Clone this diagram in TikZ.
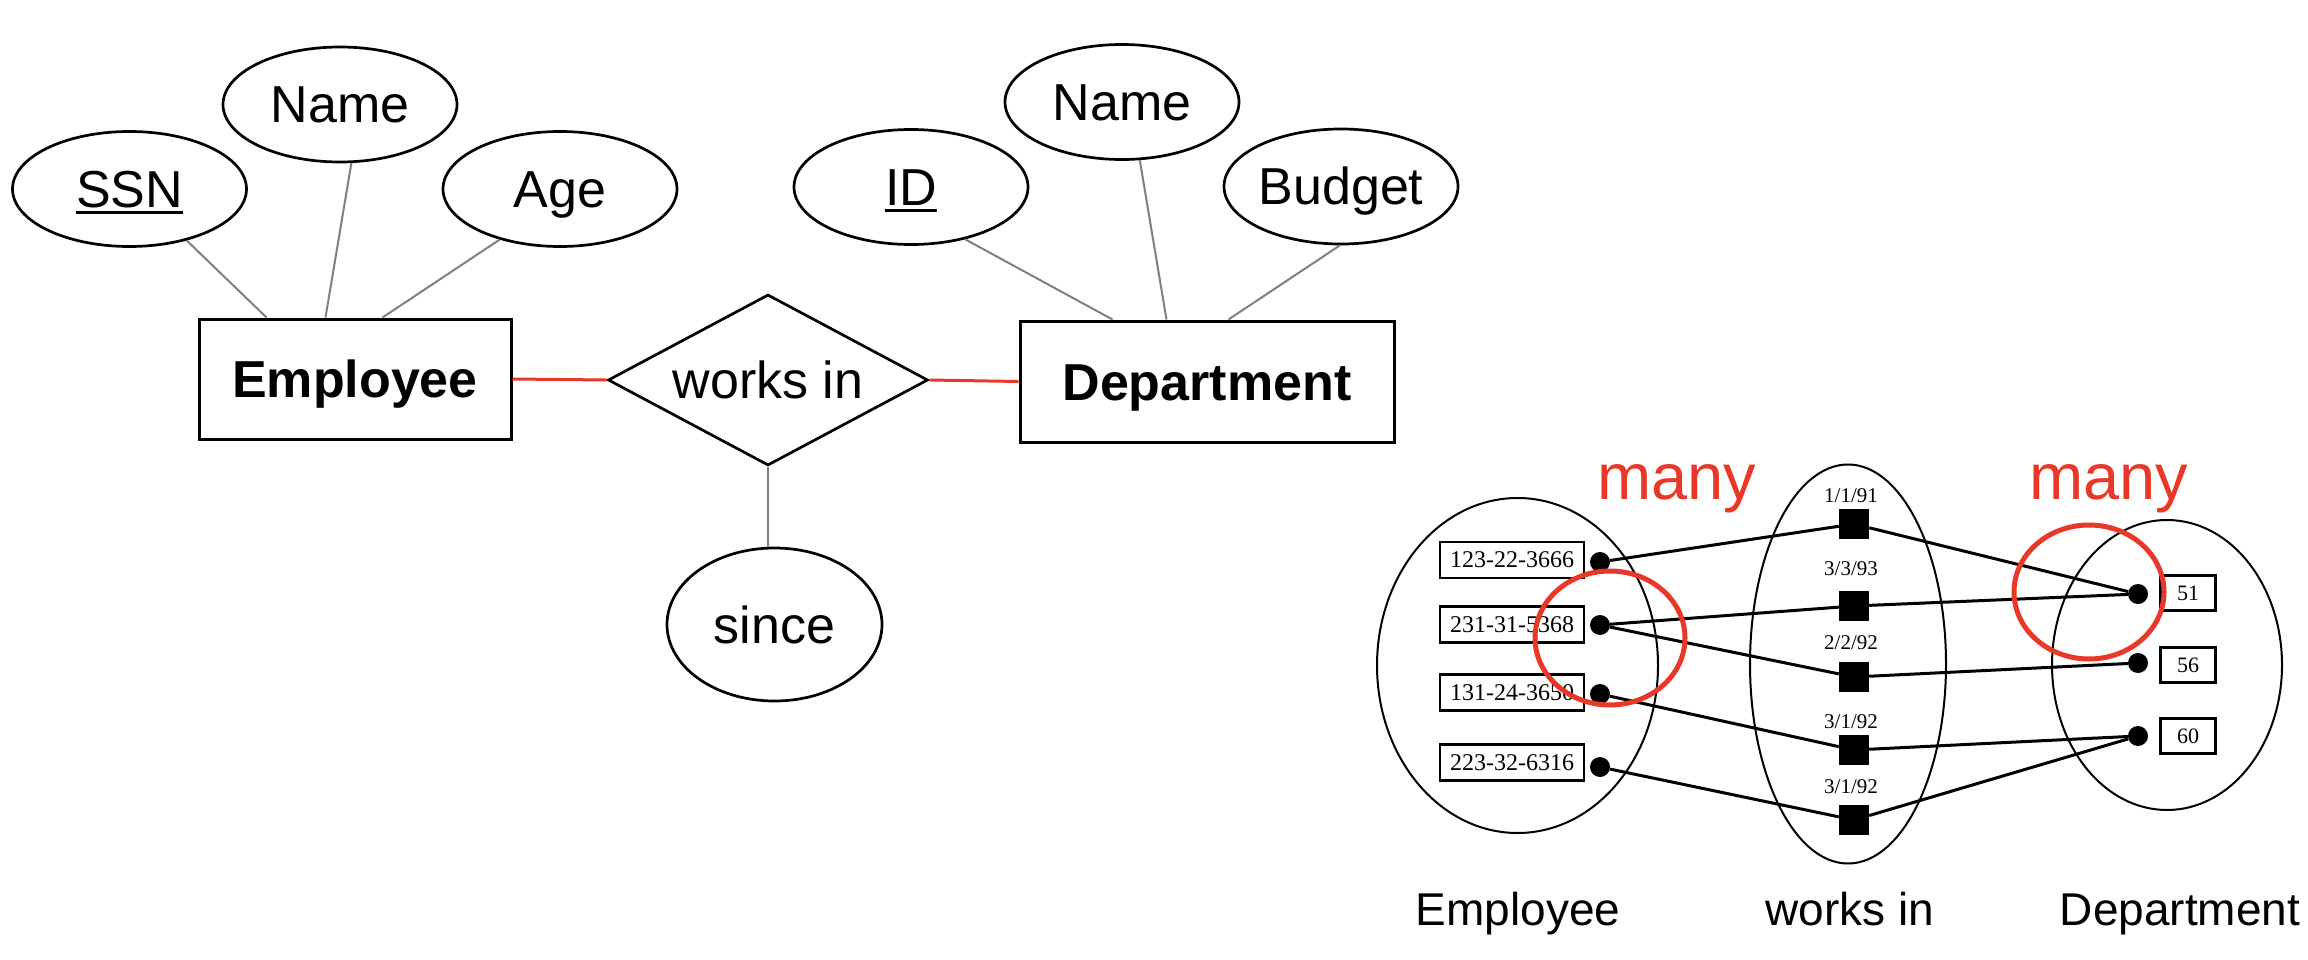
\documentclass[tikz,border=0pt]{standalone}
\usepackage{fontspec}
\setmainfont{Liberation Sans}
\newfontfamily\serifsmall{Liberation Serif}
\usetikzlibrary{shapes.geometric}
\definecolor{erred}{HTML}{E8382A}
\definecolor{linegray}{HTML}{808080}
\newcommand\myul[1]{\setbox0\hbox{#1}\rlap{\rule[-6.5pt]{\wd0}{3.2pt}}\box0}
\begin{document}
\begin{tikzpicture}[x=1pt,y=-1pt,
  attr/.style={ellipse, draw, line width=2.7pt, inner sep=0pt,
    minimum width=234pt, minimum height=115pt,
    font=\fontsize{52}{60}\selectfont, text height=37pt, text depth=0pt},
  ent/.style={rectangle, draw, line width=3pt, inner sep=0pt,
    font=\bfseries\fontsize{52}{60}\selectfont, text height=37pt, text depth=0pt},
  rel/.style={diamond, draw, line width=2.7pt, aspect=1.87, inner sep=0pt,
    minimum width=320pt, minimum height=171pt,
    font=\fontsize{52}{60}\selectfont, text height=37pt, text depth=0pt},
  attrline/.style={draw=linegray, line width=2pt},
  redline/.style={draw=erred, line width=3pt},
  setell/.style={ellipse, draw, line width=2pt, inner sep=0pt},
  idbox/.style={rectangle, draw, line width=2.2pt, inner sep=0pt,
    minimum width=144pt, minimum height=36pt,
    font=\serifsmall\fontsize{24}{28}\selectfont},
  dbox/.style={rectangle, draw, line width=2.2pt, inner sep=0pt,
    minimum width=55pt, minimum height=35pt,
    font=\serifsmall\fontsize{22}{26}\selectfont},
  dotnode/.style={circle, fill=black, inner sep=0pt, minimum size=20pt},
  sqnode/.style={rectangle, fill=black, inner sep=0pt, minimum size=30pt},
  datelbl/.style={inner sep=0pt, font=\serifsmall\fontsize{21}{24}\selectfont},
  capt/.style={anchor=base, inner sep=0pt, font=\fontsize{46}{54}\selectfont},
  manylbl/.style={anchor=base, inner sep=0pt, text=erred, font=\fontsize{65}{75}\selectfont},
  ring/.style={ellipse, draw=erred, line width=5pt, inner sep=0pt,
    minimum width=150pt, minimum height=134pt},
  conn/.style={draw=black, line width=3pt}
]
\fill[white] (0,0) rectangle (2308,960);
\useasboundingbox (0,0) rectangle (2308,960);

% ---------- ER diagram ----------
\node[attr] (ssn) at (129.5,189) {\myul{SSN}};
\node[attr] (ename) at (340,104.5) {Name};
\node[attr] (age) at (560,189) {Age};
\node[attr] (id) at (911,187) {\myul{ID}};
\node[attr] (dname) at (1122,102) {Name};
\node[attr] (budget) at (1341,186.5) {Budget};
\node[ent, minimum width=312pt, minimum height=120pt] (emp) at (355,379) {Employee};
\node[ent, minimum width=374pt, minimum height=121pt] (dept) at (1207,381.5) {Department};
\node[rel] (works) at (768,380) {works in};
\node[attr, minimum width=215pt, minimum height=153pt] (since) at (774.5,624.5) {since};

\draw[attrline] (ssn.-42) -- ([xshift=69pt]emp.north west);
\draw[attrline] (ename.-79) -- ([xshift=128pt]emp.north west);
\draw[attrline] (age.-140) -- ([xshift=185pt]emp.north west);
\draw[attrline] (id.-44) -- ([xshift=94pt]dept.north west);
\draw[attrline] (dname.-73) -- ([xshift=148pt]dept.north west);
\draw[attrline] (budget.-91) -- ([xshift=210pt]dept.north west);
\draw[attrline] (works.south) -- (works.south |- since.north);
\draw[redline] (emp.east) -- (works.west);
\draw[redline] (works.east) -- (dept.west);

% ---------- instance diagram ----------
\node[setell, minimum width=281pt, minimum height=335pt] (eset) at (1517.5,665.5) {};
\node[setell, minimum width=196pt, minimum height=399pt] (wset) at (1848,664) {};
\node[setell, minimum width=230pt, minimum height=290pt] (dset) at (2167,665) {};

\node[idbox] (b1) at (1512,560) {123-22-3666};
\node[idbox] (b2) at (1512,624.5) {231-31-5368};
\node[idbox] (b3) at (1512,692.5) {131-24-3650};
\node[idbox] (b4) at (1512,762.5) {223-32-6316};
\node[dotnode] (e1) at (1600,562) {};
\node[dotnode] (e2) at (1600,625) {};
\node[dotnode] (e3) at (1600,694) {};
\node[dotnode] (e4) at (1600,767) {};

\node[sqnode] (w1) at (1854,524) {};
\node[sqnode] (w2) at (1854,606) {};
\node[sqnode] (w3) at (1854,677) {};
\node[sqnode] (w4) at (1854,750) {};
\node[sqnode] (w5) at (1854,820) {};
\node[datelbl] (l1) at (1851,496) {1/1/91};
\node[datelbl] (l2) at (1851,569) {3/3/93};
\node[datelbl] (l3) at (1851,643) {2/2/92};
\node[datelbl] (l4) at (1851,722) {3/1/92};
\node[datelbl] (l5) at (1851,787) {3/1/92};

\node[dbox] (d1b) at (2188,593) {51};
\node[dbox] (d2b) at (2188,665) {56};
\node[dbox] (d3b) at (2188,736) {60};
\node[dotnode] (d1) at (2138,594) {};
\node[dotnode] (d2) at (2138,663) {};
\node[dotnode] (d3) at (2138,736) {};

\draw[conn] (e1) -- (w1) -- (d1);
\draw[conn] (e2) -- (w2) -- (d1);
\draw[conn] (e2) -- (w3) -- (d2);
\draw[conn] (e3) -- (w4) -- (d3);
\draw[conn] (e4) -- (w5) -- (d3);

\node[capt] (ce) at (1518,925) {Employee};
\node[capt] (cw) at (1850,925) {works in};
\node[capt] (cd) at (2180,925) {Department};

\node[manylbl] (m1) at (1677,499) {many};
\node[manylbl] (m2) at (2109,499) {many};
\node[ring] (r1) at (1610,638) {};
\node[ring] (r2) at (2089,592) {};
\end{tikzpicture}
\end{document}
